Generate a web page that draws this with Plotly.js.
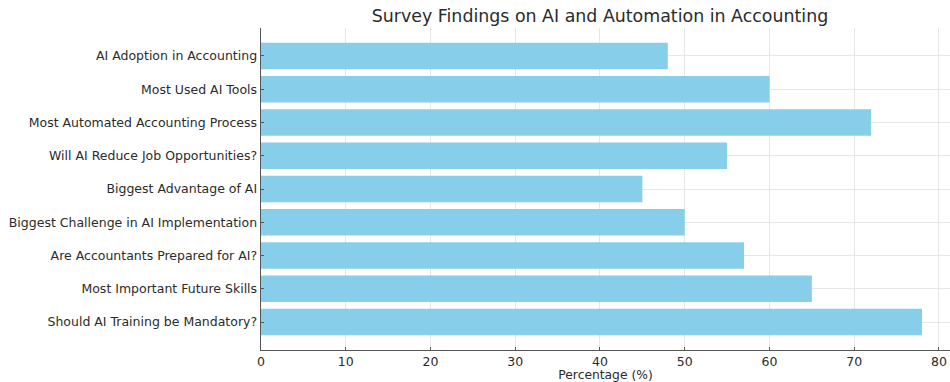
<!DOCTYPE html>
<html>
<head>
<meta charset="utf-8">
<script src="https://cdn.plot.ly/plotly-3.0.1.min.js"></script>
<style>html,body{margin:0;padding:0;background:#fff;}#chart{width:950px;height:382px;}</style>
</head>
<body>
<div id="chart"></div>
<script>
const categories = [
  "AI Adoption in Accounting",
  "Most Used AI Tools",
  "Most Automated Accounting Process",
  "Will AI Reduce Job Opportunities?",
  "Biggest Advantage of AI",
  "Biggest Challenge in AI Implementation",
  "Are Accountants Prepared for AI?",
  "Most Important Future Skills",
  "Should AI Training be Mandatory?"
];
const percentages = [48, 60, 72, 55, 45, 50, 57, 65, 78];
const xTicks = [0, 10, 20, 30, 40, 50, 60, 70, 80];

const font = "DejaVu Sans, sans-serif";
const txt = "#2b2b2b";
const trace = {
  type: "bar",
  orientation: "h",
  x: percentages,
  y: categories,
  width: 0.8,
  marker: {color: "#87CEEB", line: {width: 0}},
  hoverinfo: "none"
};
const layout = {
  width: 950, height: 382,
  margin: {l: 261, r: 0, t: 28, b: 32},
  paper_bgcolor: "#fff", plot_bgcolor: "#fff",
  font: {family: font, size: 12.5, color: txt},
  title: {text: "Survey Findings on AI and Automation in Accounting",
          font: {family: font, size: 17.4, color: txt},
          x: 0.492, xref: "paper", xanchor: "center", y: 1 - 16 / 382, yref: "container", yanchor: "middle"},
  xaxis: {
    range: [0, 81.3], tickvals: xTicks, ticktext: xTicks.map(String),
    showgrid: true, gridcolor: "#e6e6e6", gridwidth: 1,
    zeroline: false, showline: true, linecolor: "#555", linewidth: 1.4,
    ticks: "inside", ticklen: 3, tickcolor: "#555",
    tickfont: {family: font, size: 12.5, color: txt},
    title: {text: "Percentage (%)", font: {family: font, size: 12.3, color: txt}, standoff: 1}
  },
  yaxis: {
    type: "category", categoryorder: "array", categoryarray: categories,
    range: [8.84, -0.84],
    showgrid: true, gridcolor: "#e6e6e6", gridwidth: 1,
    zeroline: false, showline: true, linecolor: "#555", linewidth: 1.4,
    ticks: "inside", ticklen: 3, tickcolor: "#555",
    tickfont: {family: font, size: 12.5, color: txt}
  },
  showlegend: false
};
Plotly.newPlot("chart", [trace], layout, {staticPlot: true, displayModeBar: false});
</script>
</body>
</html>
